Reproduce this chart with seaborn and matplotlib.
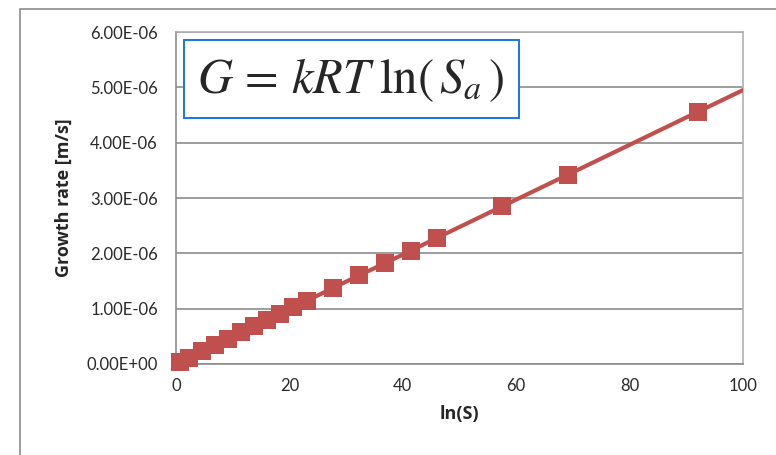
import matplotlib
matplotlib.use("Agg")
import matplotlib.pyplot as plt
import matplotlib.patches as mpatches
import matplotlib.ticker as mticker
import seaborn as sns
import pandas as pd

# Data
ln_s = [0.69, 2.30, 4.61, 6.91, 9.21, 11.51, 13.82, 16.12, 18.42, 20.72,
        23.03, 27.63, 32.24, 36.84, 41.45, 46.05, 57.56, 69.08, 92.10]
growth = [0.03e-6, 0.11e-6, 0.23e-6, 0.34e-6, 0.46e-6, 0.57e-6, 0.68e-6, 0.80e-6,
          0.91e-6, 1.03e-6, 1.14e-6, 1.37e-6, 1.60e-6, 1.82e-6, 2.05e-6, 2.28e-6,
          2.85e-6, 3.42e-6, 4.56e-6]
# line runs on past the last marker to the axis end
line_x = ln_s + [100]
line_y = growth + [4.95e-6]

x_ticks = [0, 20, 40, 60, 80, 100]
y_ticks = [0, 1e-6, 2e-6, 3e-6, 4e-6, 5e-6, 6e-6]

df_pts = pd.DataFrame({"ln_s": ln_s, "growth": growth})
df_line = pd.DataFrame({"ln_s": line_x, "growth": line_y})

sns.set_style("white")
plt.rcParams["font.family"] = ["Lato", "DejaVu Sans"]
plt.rcParams["mathtext.fontset"] = "stix"

W, H = 776, 455
fig = plt.figure(figsize=(W / 100, H / 100), dpi=100)
ax = fig.add_axes([176 / W, 1 - 364 / H, (743 - 176) / W, (364 - 32) / H])

red = "#C0504D"
sns.lineplot(data=df_line, x="ln_s", y="growth", ax=ax, color=red,
             linewidth=3, zorder=3)
sns.scatterplot(data=df_pts, x="ln_s", y="growth", ax=ax, color=red,
                marker="s", s=155, linewidth=0, zorder=4, clip_on=False)

ax.set_xlim(0, 100)
ax.set_ylim(0, 6e-6)
ax.set_xticks(x_ticks)
ax.set_yticks(y_ticks)
ax.yaxis.set_major_formatter(mticker.FuncFormatter(lambda v, p: "{:.2E}".format(v)))
ax.tick_params(axis="both", labelsize=12, colors="#8c8c8c", labelcolor="#2a2a2a",
               length=5, width=1.2, direction="out", pad=8)
ax.tick_params(axis="x", pad=5)
ax.grid(axis="y", color="#8c8c8c", linewidth=1.2)
ax.grid(axis="x", visible=False)
ax.set_axisbelow(True)
for side in ["left", "bottom"]:
    ax.spines[side].set_color("#8c8c8c")
    ax.spines[side].set_linewidth(1.2)
for side in ["top", "right"]:
    ax.spines[side].set_color("#b0b0b0")
    ax.spines[side].set_linewidth(1.2)

ax.set_xlabel("ln(S)", fontsize=13, fontweight="bold", labelpad=8,
              family=["Open Sans", "DejaVu Sans"])
ax.set_ylabel("Growth rate [m/s]", fontsize=13, fontweight="bold", labelpad=10,
              family=["Open Sans", "DejaVu Sans"])

# outer chart frame
fig.add_artist(mpatches.Rectangle((20 / W, -0.1), 1.2, 0.1 + 1 - 9 / H,
                                  transform=fig.transFigure, fill=False,
                                  edgecolor="#8c8c8c", linewidth=1.2))

# equation box
fig.add_artist(mpatches.Rectangle((184 / W, 1 - 118 / H), (519 - 184) / W, (118 - 40) / H,
                                  transform=fig.transFigure, facecolor="white",
                                  edgecolor="#1a73e8", linewidth=1.4, zorder=5))
fig.text(351 / W, 1 - 80 / H, r"$G\,=\,kRT\;\ln\!\left(\,S_a\,\right)$", fontsize=35,
         ha="center", va="center", zorder=6)

fig.savefig("out.png", dpi=100)
